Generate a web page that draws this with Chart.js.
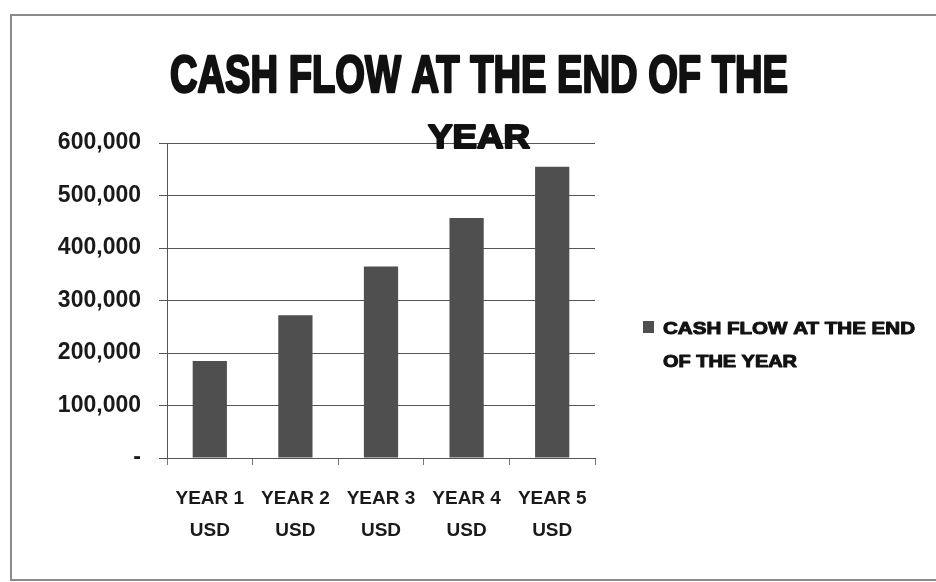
<!DOCTYPE html>
<html>
<head>
<meta charset="utf-8">
<script src="https://cdn.jsdelivr.net/npm/chart.js@4/dist/chart.umd.min.js"></script>
<style>
  html, body { margin: 0; padding: 0; background: #fff; }
  #wrap { width: 936px; height: 582px; }
</style>
</head>
<body>
<div id="wrap"><canvas id="cashChart" width="936" height="582"></canvas></div>
<script>
// data
var years = ['YEAR 1', 'YEAR 2', 'YEAR 3', 'YEAR 4', 'YEAR 5'];
var currency = 'USD';
var cashFlow = [185000, 272000, 365000, 457000, 555000];
var seriesName = 'CASH FLOW AT THE END OF THE YEAR';
var titleLines = ['CASH FLOW AT THE END OF THE', 'YEAR'];
var legendLines = ['CASH FLOW AT THE END', 'OF THE YEAR'];
var yMax = 600000;
var yStep = 100000;

var barColor = '#4f4f4f';

// draws text squeezed or stretched to a given width, with an optional heavier stroke
function drawFit(ctx, text, x, y, w, weight)
{
	var m = ctx.measureText(text).width;
	ctx.save();
	ctx.translate(x, y);
	ctx.scale(w / m, 1);
	if (weight)
	{
		ctx.lineWidth = weight;
		ctx.lineJoin = 'round';
		ctx.strokeStyle = ctx.fillStyle;
		ctx.strokeText(text, 0, 0);
	}
	ctx.fillText(text, 0, 0);
	ctx.restore();
}

var decorPlugin = {
	id: 'decor',
	beforeDraw: function(chart) {
		var ctx = chart.ctx;
		ctx.save();
		ctx.fillStyle = '#fff';
		ctx.fillRect(0, 0, chart.width, chart.height);
		ctx.strokeStyle = '#8a8a8a';
		ctx.lineWidth = 2;
		ctx.strokeRect(11, 15, 940, 565);
		ctx.restore();
	},
	afterDraw: function(chart) {
		var ctx = chart.ctx;
		ctx.save();
		ctx.fillStyle = '#111';
		ctx.textAlign = 'left';
		ctx.textBaseline = 'alphabetic';
		// title
		ctx.font = 'bold 52px "Liberation Sans", Arial, sans-serif';
		drawFit(ctx, titleLines[0], 170, 92, 618, 2.5);
		ctx.font = 'bold 33px "Liberation Sans", Arial, sans-serif';
		drawFit(ctx, titleLines[1], 428, 148, 102, 2);
		// legend
		ctx.fillStyle = chart.data.datasets[0].backgroundColor;
		ctx.fillRect(643, 321, 11, 12);
		ctx.fillStyle = '#111';
		ctx.font = 'bold 17px "Liberation Sans", Arial, sans-serif';
		drawFit(ctx, legendLines[0], 663, 334, 252, 1);
		drawFit(ctx, legendLines[1], 663, 367, 134, 1);
		ctx.restore();
	}
};

var labels = years.map(function(y) { return [y, currency]; });

var createdChart = new Chart(document.getElementById('cashChart'), {
	type: 'bar',
	data: {
		labels: labels,
		datasets: [{
			label: seriesName,
			data: cashFlow,
			backgroundColor: barColor,
			borderWidth: 0,
			barPercentage: 0.4,
			categoryPercentage: 1.0
		}]
	},
	options: {
		responsive: false,
		maintainAspectRatio: false,
		animation: false,
		layout: {
			padding: { left: 0, right: 341, top: 143, bottom: 0 }
		},
		plugins: {
			title: { display: false },
			legend: { display: false },
			tooltip: { enabled: false }
		},
		scales: {
			x: {
				afterFit: function(scale) { scale.height = 582 - 458; },
				grid: {
					drawOnChartArea: false,
					drawTicks: true,
					tickLength: 7,
					color: '#777'
				},
				border: { color: '#555', width: 1 },
				ticks: {
					color: '#1a1a1a',
					padding: 18,
					font: { family: '"Liberation Sans", Arial, sans-serif', size: 19, weight: 'bold', lineHeight: 1.68 }
				}
			},
			y: {
				min: 0,
				max: yMax,
				afterFit: function(scale) { scale.width = 167; },
				grid: {
					color: '#555',
					lineWidth: 1,
					tickLength: 8
				},
				border: { color: '#555', width: 1 },
				ticks: {
					stepSize: yStep,
					color: '#1a1a1a',
					padding: 18,
					font: { family: '"Liberation Sans", Arial, sans-serif', size: 23, weight: 'bold' },
					callback: function(v) { return v === 0 ? '-' : v.toLocaleString('en-US'); }
				}
			}
		}
	},
	plugins: [decorPlugin]
});
</script>
</body>
</html>
